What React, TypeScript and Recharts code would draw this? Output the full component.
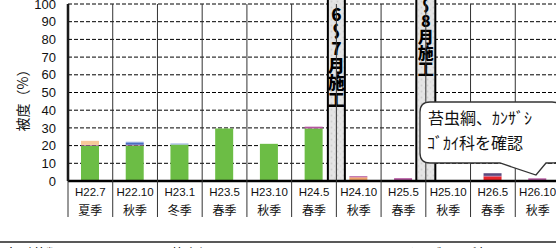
import React from "react";
import { BarChart, Bar, XAxis, YAxis, CartesianGrid, ReferenceLine } from "recharts";

const periods = ["H22.7", "H22.10", "H23.1", "H23.5", "H23.10", "H24.5", "H24.10", "H25.5", "H25.10", "H26.5", "H26.10"];
const seasons = ["夏季", "秋季", "冬季", "春季", "秋季", "春季", "秋季", "春季", "秋季", "春季", "秋季"];

// stacked layers, bottom to top
const algae = [20, 20, 20.6, 29.7, 21, 29.7, 0, 0, 0, 0, 0];
const redLayer = [0, 0, 0, 0, 0, 0, 0, 0, 0, 2.6, 0];
const orangeLayer = [0, 0, 0, 0, 0, 0, 2.1, 0, 0, 0, 0];
const bryozoa = [0.4, 0.5, 0, 0, 0, 1, 0.6, 1.6, 0, 0.3, 1.5];
const blueLayer = [0, 1, 0, 0, 0, 0, 0, 0, 0, 0, 0];
const lightBlueLayer = [0, 0.7, 0.6, 0, 0, 0, 0, 0, 0, 0, 0];
const purpleLayer = [0, 0, 0, 0, 0, 0, 0, 0, 0, 1.5, 0];
const peachLayer = [2.3, 0, 0, 0, 0, 0, 0, 0, 0, 0, 0];

const seriesKeys = ["algae", "red", "orange", "bryozoa", "blue", "lightBlue", "purple", "peach"];
const seriesNames = ["大型藻類", "紅藻類", "褐藻類", "苔虫綱", "カイメン類", "ホヤ類", "カンザシゴカイ科", "その他"];
const seriesColors = ["#6cbd45", "#e8262b", "#f0a46c", "#b4569f", "#4b6cc2", "#93abe0", "#5c4a7e", "#f8c99a"];
const seriesValues = [algae, redLayer, orangeLayer, bryozoa, blueLayer, lightBlueLayer, purpleLayer, peachLayer];

const yTicks = [0, 10, 20, 30, 40, 50, 60, 70, 80, 90, 100];

const rows = periods.map((p, i) => {
  const r: any = { period: p, season: seasons[i] };
  seriesKeys.forEach((k, j) => (r[k] = seriesValues[j][i]));
  return r;
});

const PLOT_TOP = 4;
const JP = '"Noto Sans CJK JP", sans-serif';
const LAT = '"Liberation Sans", Arial, sans-serif';

const PeriodTick = (props: any) => {
  const { x, y, payload, index } = props;
  const half = payload.offset ?? 22.36;
  return (
    <g>
      <line x1={x - half} x2={x - half} y1={PLOT_TOP} y2={y + 36} stroke="#333" strokeWidth={1} />
      <text x={x} y={y + 11} textAnchor="middle" dominantBaseline="central" fontSize={11.5} fontFamily={LAT} fill="#111">
        {payload.value}
      </text>
      <text x={x} y={y + 28} textAnchor="middle" dominantBaseline="central" fontSize={12} fontFamily={JP} fill="#111">
        {seasons[index]}
      </text>
    </g>
  );
};

const Pillar = (props: any) => {
  const { x1, y1, y2, label, top, size, w, id, spacing } = props;
  const bottom = Math.max(y1 ?? 0, y2 ?? 0);
  return (
    <g>
      <defs>
        <pattern id={id} width={6} height={6} patternUnits="userSpaceOnUse">
          <rect width={6} height={6} fill="#e4e4e4" />
          <circle cx={1.5} cy={1.5} r={0.9} fill="#cfcfcf" />
          <circle cx={4.5} cy={4} r={0.7} fill="#d6d6d6" />
          <circle cx={4} cy={1} r={0.6} fill="#f2f2f2" />
        </pattern>
      </defs>
      <rect x={x1 - w / 2} y={-4} width={w} height={bottom + 4} fill={`url(#${id})`} stroke="#000" strokeWidth={2} />
      <text x={x1} y={top} fontSize={size} fontWeight={900} fontFamily={JP} fill="#000"
        style={{ writingMode: "vertical-rl", textOrientation: "upright", letterSpacing: spacing }}>
        {label}
      </text>
    </g>
  );
};

export default function App() {
  return (
    <div style={{ position: "fixed", left: 0, top: 0, width: 556, height: 248, overflow: "hidden", background: "#fff" }}>
      <BarChart width={560} height={248} data={rows} margin={{ top: PLOT_TOP, right: 0, left: 8, bottom: 31 }} barSize={18}>
        <CartesianGrid vertical={false} stroke="#000" strokeDasharray="4 2" />
        <XAxis dataKey="period" height={36} interval={0} tickSize={0} tickMargin={0} tickLine={false}
          axisLine={{ stroke: "#000", strokeWidth: 2.5 }} tick={<PeriodTick />} />
        <YAxis width={60} domain={[0, 100]} ticks={yTicks} interval={0} tickSize={0} tickMargin={12} tickLine={false}
          axisLine={{ stroke: "#000", strokeWidth: 2.5 }}
          tick={{ fontSize: 13, fill: "#111", fontFamily: LAT }} />
        {seriesKeys.map((k, j) => (
          <Bar key={k} dataKey={k} name={seriesNames[j]} stackId="a" fill={seriesColors[j]} isAnimationActive={false} />
        ))}
        <ReferenceLine x="H24.10" position="start" ifOverflow="visible"
          shape={(p: any) => <Pillar {...p} id="tex1" w={17} size={17} spacing={0} top={6} label="6～7月施工" />} />
        <ReferenceLine x="H25.10" position="start" ifOverflow="visible"
          shape={(p: any) => <Pillar {...p} id="tex2" w={19} size={16} spacing={0} top={-19} label="7～8月施工" />} />
      </BarChart>
      <svg width={556} height={248} style={{ position: "absolute", left: 0, top: 0, pointerEvents: "none" }}>
        <text x={22} y={97} transform="rotate(-90 22 97)" textAnchor="middle" dominantBaseline="central" fontSize={14} fontFamily={JP} fill="#111">
          被度（%）
        </text>
        <path d="M430,102 H552 Q562,102 562,112 V153 Q562,163 552,163 H546 L536,175 L500,163 H430 Q420,163 420,153 V112 Q420,102 430,102 Z"
          fill="#fff" stroke="#333" strokeWidth={1.3} />
        <text x={428} y={124} fontSize={16} fontFamily={JP} fill="#111">苔虫綱、ｶﾝｻﾞｼ</text>
        <text x={427} y={149} fontSize={16} fontFamily={JP} fill="#111">ｺﾞｶｲ科を確認</text>
        <line x1={0} x2={556} y1={242} y2={242} stroke="#222" strokeWidth={1.5} />
        <text x={4} y={259} fontSize={14} fontFamily={JP} fill="#111">{seriesNames[0]}</text>
        <text x={170} y={259} fontSize={14} fontFamily={JP} fill="#111">{seriesNames[3]}</text>
        <text x={372} y={259} fontSize={14} fontFamily={JP} fill="#111">{seriesNames[6]}</text>
      </svg>
    </div>
  );
}
